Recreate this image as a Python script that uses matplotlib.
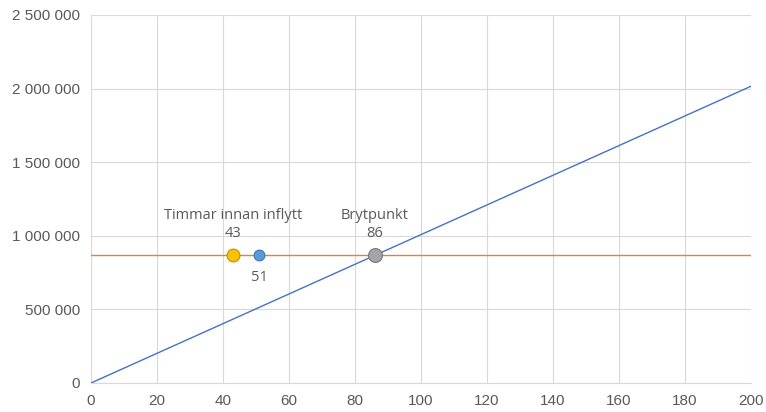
import matplotlib.pyplot as plt
import numpy as np
from matplotlib.ticker import FuncFormatter

plt.rcParams['font.family'] = ['Liberation Sans', 'DejaVu Sans']

# data
timmar = [0, 200]
kostnad_rak = [0, 200 * 10080]
fast_kostnad = 870000
punkter_x = [43, 51, 86]
punkter_farg = ['#FFC000', '#5B9BD5', '#A5A5A5']
punkter_kant = ['#C09000', '#3C78B0', '#7A7A7A']
punkter_storlek = [85, 60, 100]
etiketter = ['Timmar innan inflytt\n43', '51', 'Brytpunkt\n86']
etikett_under = [False, True, False]

fig = plt.figure(figsize=(7.66, 4.12), dpi=100)
ax = fig.add_axes([0.1188, 0.0704, 0.8616, 0.8932])

ax.plot(timmar, kostnad_rak, color='#4472C4', lw=1.0, zorder=3)
ax.axhline(fast_kostnad, color='#ED7D31', lw=1.0, zorder=3)

for x, fc, ec, s, txt, under in zip(punkter_x, punkter_farg, punkter_kant, punkter_storlek,
                                    etiketter, etikett_under):
    ax.scatter([x], [fast_kostnad], s=s, color=fc, edgecolors=ec, linewidths=0.8, zorder=5)
    if under:
        ax.annotate(txt, (x, fast_kostnad), xytext=(0, -16), textcoords='offset points',
                    ha='center', va='center', fontsize=10.5, color='#595959', family='Open Sans')
    else:
        ax.annotate(txt, (x, fast_kostnad), xytext=(0, 22), textcoords='offset points',
                    ha='center', va='center', fontsize=10.5, color='#595959', family='Open Sans',
                    linespacing=1.3)

ax.set_xlim(0, 200)
ax.set_ylim(0, 2500000)
ax.set_xticks(np.arange(0, 201, 20))
ax.set_yticks(np.arange(0, 2500001, 500000))
ax.yaxis.set_major_formatter(FuncFormatter(lambda v, p: f'{int(v):,}'.replace(',', ' ')))
ax.grid(True, color='#D9D9D9', lw=0.8)
ax.set_axisbelow(True)
for s in ['top', 'right', 'left']:
    ax.spines[s].set_visible(False)
ax.spines['bottom'].set_color('#D9D9D9')
ax.tick_params(length=0, colors='#595959', labelsize=11, pad=8)

fig.savefig('out.png', dpi=100)
